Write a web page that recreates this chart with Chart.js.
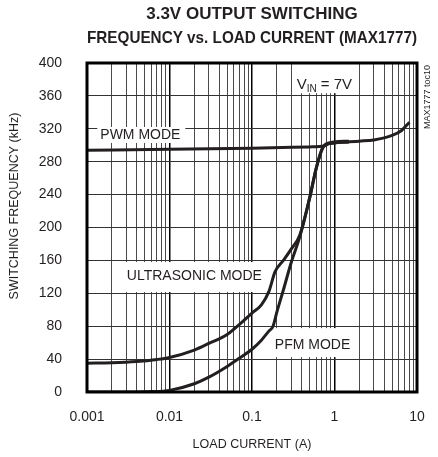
<!DOCTYPE html>
<html>
<head>
<meta charset="utf-8">
<script src="https://cdn.jsdelivr.net/npm/chart.js@4.4.1/dist/chart.umd.min.js"></script>
<style>
  html, body { margin: 0; padding: 0; background: #fff; }
</style>
</head>
<body>
<canvas id="chart" width="438" height="457"></canvas>
<script>
// tick labels
const xTicks = [0.001, 0.01, 0.1, 1, 10]
const yTicks = [0, 40, 80, 120, 160, 200, 240, 280, 320, 360, 400]

// PWM mode
const pwmCurrent = [0.001, 0.01, 0.1, 0.5, 0.75, 0.85, 1, 2, 3, 5, 6.5, 8.1]
const pwmFreq = [294, 295, 296.5, 298, 299, 302, 303, 305, 306.5, 312, 318, 328]

// ultrasonic mode
const ultraCurrent = [0.001, 0.002, 0.004, 0.007, 0.01, 0.02, 0.03, 0.05, 0.07, 0.1, 0.13, 0.16, 0.19, 0.24, 0.3, 0.38, 0.5, 0.6, 0.72, 0.8, 1.5]
const ultraFreq = [35, 35.5, 37, 39.5, 42, 51, 59, 70, 82, 96, 106, 122, 146, 160, 174, 191, 236, 272, 297, 302, 305]

// PFM mode
const pfmCurrent = [0.001, 0.003, 0.006, 0.01, 0.02, 0.03, 0.05, 0.07, 0.1, 0.13, 0.16, 0.18, 0.2, 0.24, 0.3, 0.38, 0.5, 0.6, 0.72, 0.8, 1.5]
const pfmFreq = [0, 0, 0.5, 2, 10, 18, 31, 41, 52, 63, 74, 80, 97, 124, 158, 189, 236, 272, 297, 301, 304]

const ink = '#231f20'
const fontFamily = 'Arial, "Liberation Sans", Helvetica, sans-serif'

// grid at 1..9 of every decade
const xGrid = []
xTicks.slice(0, -1).forEach(d => {
  for (let m = 1; m < 10; m++) xGrid.push(m === 1 ? d : +(d * m).toPrecision(3))
})
xGrid.push(xTicks[xTicks.length - 1])

const toPoints = (xs, ys) => xs.map((x, i) => ({ x, y: ys[i] }))

const lineStyle = {
  borderColor: ink,
  borderWidth: 3,
  pointRadius: 0,
  fill: false,
  cubicInterpolationMode: 'monotone'
}

const labels = [
  { text: 'PWM MODE', x: 0.00145, y: 312.5, box: [-3, 85, -8, 8] },
  { text: 'ULTRASONIC MODE', x: 0.00304, y: 141, box: [-5, 137, -14, 16] },
  { text: 'PFM MODE', x: 0.189, y: 57, box: [-4, 80, -17, 12] }
]

const annotations = {
  id: 'annotations',
  beforeDatasetsDraw(chart) {
    const { ctx, scales: { x, y }, chartArea } = chart
    ctx.save()
    ctx.font = '14px ' + fontFamily
    ctx.textBaseline = 'middle'
    ctx.textAlign = 'left'
    labels.forEach(l => {
      const px = x.getPixelForValue(l.x)
      const py = y.getPixelForValue(l.y)
      const [b0, b1, b2, b3] = l.box
      ctx.fillStyle = '#fff'
      ctx.fillRect(px + b0, py + b2, b1 - b0, b3 - b2)
      ctx.fillStyle = ink
      ctx.fillText(l.text, px, py)
    })

    // V_IN = 7V box
    const vx = x.getPixelForValue(0.348)
    const vy = y.getPixelForValue(373)
    ctx.fillStyle = '#fff'
    ctx.fillRect(vx - 4, chartArea.top, 66, vy + 8 - chartArea.top)
    ctx.fillStyle = ink
    ctx.font = '15px ' + fontFamily
    ctx.fillText('V', vx, vy)
    let w = ctx.measureText('V').width
    ctx.font = '10px ' + fontFamily
    ctx.fillText('IN', vx + w, vy + 4)
    w += ctx.measureText('IN').width
    ctx.font = '15px ' + fontFamily
    ctx.fillText(' = 7V', vx + w, vy)
    ctx.restore()
  },
  afterDraw(chart) {
    const { ctx, chartArea } = chart
    ctx.save()
    ctx.strokeStyle = '#000'
    ctx.lineWidth = 3
    ctx.strokeRect(chartArea.left, chartArea.top, chartArea.width, chartArea.height)

    ctx.fillStyle = ink
    ctx.textAlign = 'center'
    ctx.textBaseline = 'middle'

    // y axis title
    ctx.font = '12.5px ' + fontFamily
    ctx.translate(15, 206)
    ctx.rotate(-Math.PI / 2)
    ctx.fillText('SWITCHING FREQUENCY (kHz)', 0, 0)
    ctx.setTransform(1, 0, 0, 1, 0, 0)

    // figure tag
    ctx.font = '9px ' + fontFamily
    ctx.translate(chartArea.right + 11, chartArea.top + 34)
    ctx.rotate(-Math.PI / 2)
    ctx.fillText('MAX1777 toc10', 0, 0)
    ctx.restore()
  }
}

new Chart(document.getElementById('chart'), {
  type: 'line',
  data: {
    datasets: [
      { label: 'PWM MODE', data: toPoints(pwmCurrent, pwmFreq), ...lineStyle },
      { label: 'ULTRASONIC MODE', data: toPoints(ultraCurrent, ultraFreq), ...lineStyle },
      { label: 'PFM MODE', data: toPoints(pfmCurrent, pfmFreq), ...lineStyle }
    ]
  },
  options: {
    responsive: false,
    animation: false,
    devicePixelRatio: 1,
    layout: { padding: { left: 0, right: 21, top: 0, bottom: 0 } },
    plugins: {
      legend: { display: false },
      tooltip: { enabled: false },
      title: {
        display: true,
        fullSize: false,
        text: ['3.3V OUTPUT SWITCHING', 'FREQUENCY vs. LOAD CURRENT (MAX1777)'],
        color: ink,
        font: { family: fontFamily, size: 17, weight: 'bold', lineHeight: 24 / 17 },
        padding: { top: 2, bottom: 13 }
      }
    },
    scales: {
      x: {
        type: 'logarithmic',
        min: xTicks[0],
        max: xTicks[xTicks.length - 1],
        afterFit: s => { s.height = 65; s.paddingLeft = 0; s.paddingRight = 0 },
        afterBuildTicks: s => { s.ticks = xGrid.map(v => ({ value: v })) },
        border: { display: false },
        grid: {
          drawTicks: false,
          color: c => xTicks.includes(c.tick.value) ? '#000' : '#4a4a4a',
          lineWidth: c => xTicks.includes(c.tick.value) ? 1.5 : 1
        },
        ticks: {
          autoSkip: false,
          maxRotation: 0,
          padding: 17,
          color: ink,
          font: { family: fontFamily, size: 14 },
          callback: v => xTicks.includes(v) ? String(v) : ''
        },
        title: {
          display: true,
          text: 'LOAD CURRENT (A)',
          color: ink,
          font: { family: fontFamily, size: 12.5 },
          padding: { top: 0, bottom: 4.5 }
        }
      },
      y: {
        min: yTicks[0],
        max: yTicks[yTicks.length - 1],
        afterFit: s => { s.width = 87 },
        afterBuildTicks: s => { s.ticks = yTicks.map(v => ({ value: v })) },
        border: { display: false },
        grid: { drawTicks: false, color: '#333', lineWidth: 1 },
        ticks: {
          padding: 25,
          color: ink,
          font: { family: fontFamily, size: 14 }
        }
      }
    }
  },
  plugins: [annotations]
})
</script>
</body>
</html>
